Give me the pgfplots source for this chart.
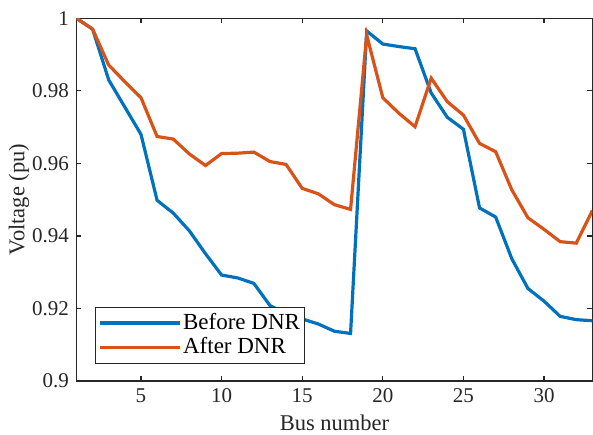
\documentclass[border=0pt]{standalone}
\usepackage{pgfplots}
\pgfplotsset{compat=1.18}
\usepackage{fontspec}
\setmainfont{Liberation Serif}
\definecolor{mblue}{rgb}{0,0.447,0.741}
\definecolor{morange}{rgb}{0.85,0.325,0.098}
\definecolor{axgray}{rgb}{0.15,0.15,0.15}
\begin{document}
\fontsize{22}{26}\selectfont
\begin{tikzpicture}
\begin{axis}[
  name=ax,
  width=516pt, height=362.7pt, scale only axis,
  xmin=1, xmax=33, ymin=0.9, ymax=1,
  xtick={5,10,15,20,25,30},
  ytick={0.9,0.92,0.94,0.96,0.98,1},
  yticklabels={0.9,0.92,0.94,0.96,0.98,1},
  tick align=inside,
  major tick length=5pt,
  axis line style={axgray, line width=1.4pt},
  every tick/.style={axgray, line width=1.3pt},
  tick label style={font=\fontsize{21}{25}\selectfont, text=axgray},
  /pgf/number format/assume math mode=true,
  xlabel={Bus number}, ylabel={Voltage (pu)},
  label style={font=\fontsize{22.5}{26}\selectfont, text=axgray},
  xlabel style={yshift=3pt},
  ylabel style={yshift=-12pt},
  legend style={at={(0.0368,0.0477)}, anchor=south west, draw=axgray, line width=0.9pt,
     font=\fontsize{23}{26}\selectfont, text=black, inner xsep=2pt, inner ysep=4pt,
     row sep=1pt, cells={anchor=west}},
  legend image code/.code={\draw[#1, line width=3.2pt] (4pt,0pt) -- (84pt,0pt);},
  legend cell align=left,
]
\addplot[mblue, line width=3.2pt] coordinates {
(1,1.0) (2,0.997) (3,0.983) (4,0.9755) (5,0.968) (6,0.9498) (7,0.9463) (8,0.9414)
(9,0.9351) (10,0.9292) (11,0.9284) (12,0.9269) (13,0.9208) (14,0.9185) (15,0.9171)
(16,0.9157) (17,0.9137) (18,0.9131) (19,0.9965) (20,0.9929) (21,0.9922) (22,0.9916)
(23,0.9794) (24,0.9727) (25,0.9694) (26,0.9477) (27,0.9452) (28,0.9337) (29,0.9255)
(30,0.9220) (31,0.9178) (32,0.9169) (33,0.9166)};
\addlegendentry{Before DNR}
\addplot[morange, line width=3.2pt] coordinates {
(1,1.0) (2,0.997) (3,0.9871) (4,0.9825) (5,0.9781) (6,0.9674) (7,0.9667) (8,0.9626)
(9,0.9594) (10,0.9627) (11,0.9628) (12,0.9631) (13,0.9605) (14,0.9597) (15,0.9531)
(16,0.9516) (17,0.9486) (18,0.9473) (19,0.9954) (20,0.9781) (21,0.9738) (22,0.9701)
(23,0.9835) (24,0.9770) (25,0.9733) (26,0.9655) (27,0.9632) (28,0.9527) (29,0.9450)
(30,0.9418) (31,0.9384) (32,0.9380) (33,0.9470)};
\addlegendentry{After DNR}
\end{axis}
\pgfresetboundingbox
\path ([shift={(-76.5pt,-54pt)}]ax.south west) rectangle ([shift={(0.6pt,18.3pt)}]ax.north east);
\end{tikzpicture}
\end{document}
